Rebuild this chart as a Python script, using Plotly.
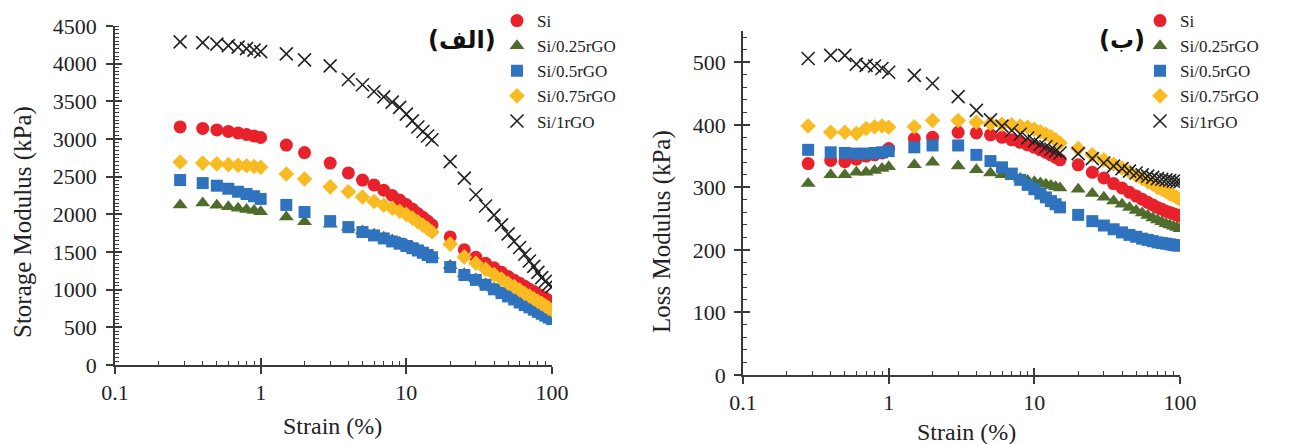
import plotly.graph_objects as go

# ---------------- data ----------------
strain = [0.28, 0.4, 0.5, 0.6, 0.7, 0.8, 0.9, 1, 1.5, 2,
          3, 4, 5, 6, 7, 8, 9, 10, 11, 12, 13, 14, 15,
          20, 25, 30, 35, 40, 45, 50, 55, 60, 65, 70, 75, 80, 85, 90, 95, 100]

series_names = ["Si", "Si/0.25rGO", "Si/0.5rGO", "Si/0.75rGO", "Si/1rGO"]

# Storage modulus (kPa)
storage_si = [3160, 3140, 3120, 3100, 3080, 3060, 3040, 3020, 2920, 2820,
              2680, 2550, 2455, 2390, 2320, 2250, 2190, 2130, 2070, 2010, 1960, 1910, 1860,
              1700, 1530, 1430, 1350, 1290, 1230, 1175, 1125, 1085, 1045, 1005, 975, 940, 910, 885, 855, 830]
storage_025 = [2125, 2150, 2120, 2100, 2080, 2065, 2050, 2035, 1965, 1900,
               1870, 1830, 1780, 1735, 1695, 1660, 1630, 1600, 1570, 1540, 1510, 1480, 1455,
               1320, 1210, 1140, 1075, 1020, 970, 925, 885, 845, 810, 780, 750, 720, 695, 670, 645, 625]
storage_05 = [2455, 2415, 2380, 2340, 2300, 2270, 2240, 2205, 2125, 2030,
              1910, 1830, 1765, 1720, 1680, 1640, 1610, 1580, 1550, 1520, 1490, 1460, 1430,
              1300, 1195, 1130, 1065, 1005, 955, 910, 870, 830, 795, 765, 735, 705, 680, 655, 630, 610]
storage_075 = [2695, 2680, 2670, 2660, 2650, 2645, 2635, 2625, 2535, 2470,
               2365, 2300, 2230, 2170, 2120, 2080, 2040, 2000, 1950, 1900, 1855, 1810, 1765,
               1605, 1435, 1350, 1270, 1200, 1140, 1085, 1040, 995, 950, 915, 880, 845, 815, 785, 755, 730]
storage_1 = [4290, 4280, 4260, 4240, 4220, 4200, 4180, 4160, 4130, 4050,
             3970, 3790, 3720, 3630, 3560, 3490, 3420, 3330, 3240, 3160, 3100, 3040, 2990,
             2700, 2480, 2260, 2110, 1990, 1860, 1740, 1640, 1560, 1470, 1380, 1310, 1230, 1160, 1110, 1070, 1040]

# Loss modulus (kPa)
loss_si = [338, 343, 341, 345, 350, 352, 355, 362, 378, 380,
           388, 387, 384, 380, 376, 372, 368, 364, 360, 356, 352, 348, 344,
           336, 324, 315, 306, 299, 292, 286, 281, 276, 272, 268, 265, 262, 260, 258, 256, 254]
loss_025 = [306, 320, 320, 324, 324, 327, 330, 333, 336, 340,
            334, 328, 323, 320, 317, 314, 311, 309, 307, 305, 303, 301, 299,
            297, 290, 284, 278, 273, 268, 263, 259, 255, 251, 248, 245, 242, 240, 238, 236, 234]
loss_05 = [360, 356, 355, 354, 354, 355, 356, 358, 364, 367,
           367, 352, 342, 332, 322, 312, 304, 297, 290, 284, 278, 273, 268,
           256, 246, 239, 233, 228, 224, 221, 218, 216, 214, 212, 211, 210, 209, 208, 207, 207]
loss_075 = [398, 388, 388, 386, 394, 397, 398, 396, 397, 407,
            407, 404, 402, 401, 400, 398, 396, 393, 389, 385, 381, 376, 371,
            362, 352, 344, 337, 331, 325, 319, 314, 309, 305, 300, 297, 293, 290, 287, 284, 281]
loss_1 = [506, 511, 511, 497, 495, 494, 490, 484, 479, 466,
          445, 423, 408, 398, 391, 385, 379, 374, 369, 365, 361, 358, 355,
          354, 346, 339, 334, 330, 326, 323, 320, 318, 316, 314, 313, 312, 311, 310, 309, 309]

x_ticks = [0.1, 1, 10, 100]
x_tick_text = ["0.1", "1", "10", "100"]

# ---------------- styling ----------------
W, H = 1290, 444
FONT = "Liberation Serif"
AXC = "#3a3a3a"
TXT = "#222222"

styles = [
    dict(symbol="circle", size=13, color="#e8212b"),
    dict(symbol="triangle-up", size=13, color="#506c2c"),
    dict(symbol="square", size=12, color="#2f72bd"),
    dict(symbol="diamond", size=12, color="#f9bb22"),
    dict(symbol="x-thin", size=13, color="#222222", line=dict(width=1.6, color="#222222")),
]

storage = [storage_si, storage_025, storage_05, storage_075, storage_1]
loss = [loss_si, loss_025, loss_05, loss_075, loss_1]


def px_x(p):
    return p / W


def px_y(p):
    return 1 - p / H


fig = go.Figure()
for name, st, ys in zip(series_names, styles, storage):
    fig.add_trace(go.Scatter(x=strain, y=ys, mode="markers", name=name, marker=st,
                             xaxis="x", yaxis="y", legend="legend"))
for name, st, ys in zip(series_names, styles, loss):
    fig.add_trace(go.Scatter(x=strain, y=ys, mode="markers", name=name, marker=st,
                             xaxis="x2", yaxis="y2", legend="legend2"))
# empty traces to instantiate overlay axes (for crossing major ticks)
fig.add_trace(go.Scatter(x=[], y=[], xaxis="x3", yaxis="y3", showlegend=False))
fig.add_trace(go.Scatter(x=[], y=[], xaxis="x4", yaxis="y4", showlegend=False))

minor_x = [v * m for v in (0.1, 1, 10) for m in range(2, 10)]

dom_x1 = [px_x(115), px_x(552)]
dom_x2 = [px_x(743), px_x(1180)]
dom_y1 = [px_y(365), px_y(26)]
dom_y2 = [px_y(375), px_y(31)]

tickfont = dict(family=FONT, size=22, color=TXT)


def xaxis_main(domain, anchor):
    return dict(type="log", range=[-1, 2], domain=domain, anchor=anchor, automargin=False,
                showline=True, linecolor=AXC, linewidth=1.5, showgrid=False, zeroline=False,
                tickmode="array", tickvals=x_ticks, ticktext=x_tick_text,
                ticks="outside", ticklen=7, tickwidth=1.5, tickcolor=AXC,
                tickfont=tickfont,
                minor=dict(tickmode="array", tickvals=minor_x, ticks="inside",
                           ticklen=4, tickwidth=1.2, tickcolor=AXC, showgrid=False))


def xaxis_over(base, anchor):
    return dict(type="log", range=[-1, 2], overlaying=base, anchor=anchor, automargin=False,
                showline=False, showgrid=False, zeroline=False, showticklabels=False,
                tickmode="array", tickvals=x_ticks, ticks="inside", ticklen=7,
                tickwidth=1.5, tickcolor=AXC)


def yaxis_main(domain, anchor, rng, dtick, minor_dtick, standoff):
    return dict(range=rng, domain=domain, anchor=anchor, automargin=False,
                showline=True, linecolor=AXC, linewidth=1.5, showgrid=False, zeroline=False,
                tick0=0, dtick=dtick, ticks="outside", ticklen=7, tickwidth=1.5,
                tickcolor=AXC, tickfont=tickfont, ticklabelstandoff=standoff,
                minor=dict(dtick=minor_dtick, tick0=0, ticks="inside", ticklen=4,
                           tickwidth=1.2, tickcolor=AXC, showgrid=False))


def yaxis_over(base, anchor, rng, dtick):
    return dict(range=rng, overlaying=base, anchor=anchor, automargin=False,
                showline=False, showgrid=False,
                zeroline=False, showticklabels=False, tick0=0, dtick=dtick,
                ticks="inside", ticklen=7, tickwidth=1.5, tickcolor=AXC)


legend_font = dict(family=FONT, size=17, color=TXT)

fig.update_layout(
    width=W, height=H, autosize=False,
    margin=dict(l=0, r=0, t=0, b=0),
    paper_bgcolor="white", plot_bgcolor="white",
    font=dict(family=FONT, color=TXT),
    xaxis=xaxis_main(dom_x1, "y"),
    yaxis=yaxis_main(dom_y1, "x", [0, 4500], 500, 50, 5),
    xaxis2=xaxis_main(dom_x2, "y2"),
    yaxis2=yaxis_main(dom_y2, "x2", [0, 550], 100, 20, 4),
    xaxis3=xaxis_over("x", "y3"),
    yaxis3=yaxis_over("y", "x3", [0, 4500], 500),
    xaxis4=xaxis_over("x2", "y4"),
    yaxis4=yaxis_over("y2", "x4", [0, 550], 100),
    legend=dict(x=px_x(497), y=px_y(3), xanchor="left", yanchor="top",
                bgcolor="rgba(0,0,0,0)", font=legend_font, itemwidth=30,
                tracegroupgap=0),
    legend2=dict(x=px_x(1140), y=px_y(3), xanchor="left", yanchor="top",
                 bgcolor="rgba(0,0,0,0)", font=legend_font, itemwidth=30,
                 tracegroupgap=0),
    showlegend=True,
)

annotations = [
    dict(text="Strain (%)", x=px_x(332), y=px_y(426), font=dict(family=FONT, size=24, color=TXT)),
    dict(text="Strain (%)", x=px_x(966), y=px_y(432), font=dict(family=FONT, size=24, color=TXT)),
    dict(text="Storage Modulus (kPa)", x=px_x(23), y=px_y(222), textangle=-90,
         font=dict(family=FONT, size=25, color=TXT)),
    dict(text="Loss Modulus (kPa)", x=px_x(662), y=px_y(232), textangle=-90,
         font=dict(family=FONT, size=25, color=TXT)),
    dict(text="<b>(الف)</b>", x=px_x(462), y=px_y(40),
         font=dict(family="DejaVu Sans", size=24, color="#111111")),
    dict(text="<b>(ب)</b>", x=px_x(1122), y=px_y(40),
         font=dict(family="DejaVu Sans", size=24, color="#111111")),
]
for a in annotations:
    a.update(xref="paper", yref="paper", showarrow=False, xanchor="center", yanchor="middle")
fig.update_layout(annotations=annotations)

fig.write_html("out.html")
